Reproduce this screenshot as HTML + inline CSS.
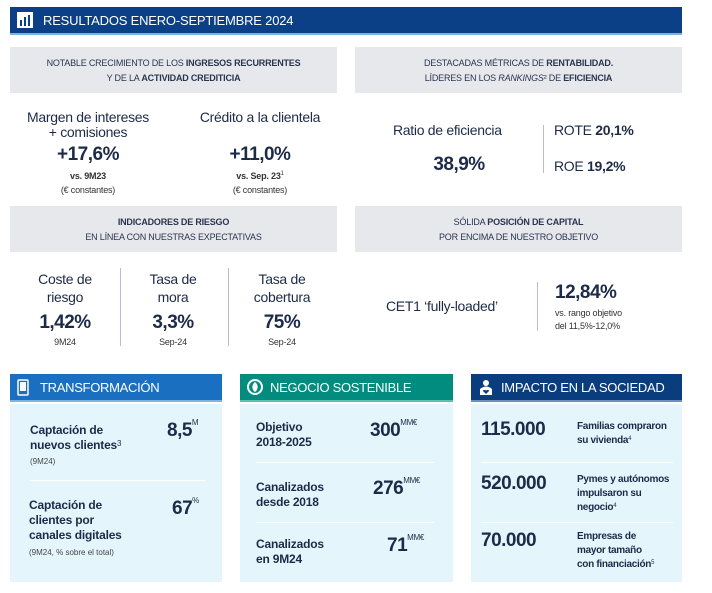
<!DOCTYPE html>
<html><head><meta charset="utf-8"><style>
*{margin:0;padding:0;box-sizing:border-box}
body{width:712px;height:593px;background:#fff;position:relative;overflow:hidden;font-family:"Liberation Sans",sans-serif;color:#1d2a48}
.a{position:absolute;white-space:nowrap}
.c{text-align:center}
.gray{position:absolute;background:#e6e8ec;font-size:9px;letter-spacing:-0.2px;text-align:center;line-height:15px;color:#2a3550}
b{font-weight:bold}
.lab{font-size:14px;line-height:15px;letter-spacing:-0.3px;color:#1d2a48}
.big{font-size:19px;font-weight:bold;letter-spacing:-0.5px}
.sm{font-size:9px;color:#333;letter-spacing:-0.2px}
.vl{position:absolute;width:1px;background:#b8bec8}
.hd{position:absolute;height:28px;color:#fff;font-size:13px;letter-spacing:-0.3px;white-space:nowrap;line-height:28px;padding-left:30px;border-bottom:2px solid #7fb2dd}
.body{position:absolute;background:#e4f6fc}
.hl{position:absolute;height:1px;background:#fff}
.it{font-size:12px;font-weight:bold;line-height:15px;letter-spacing:-0.2px}
.nm{font-size:19px;font-weight:bold;letter-spacing:-0.5px}
sup{font-size:8px;font-weight:normal;vertical-align:top;position:relative;top:-2px;letter-spacing:-0.3px}
.ds{font-size:10px;font-weight:bold;line-height:14px;letter-spacing:-0.3px}
</style></head><body>
<div class="a" style="left:10px;top:7px;width:672px;height:28px;background:#0b3f86;border-bottom:2px solid #7fb2dd;color:#fff;font-size:13px;letter-spacing:-0.2px;line-height:27px;padding-left:33px">RESULTADOS ENERO-SEPTIEMBRE 2024</div>
<svg class="a" style="left:17px;top:12px" width="16" height="16"><rect width="16" height="16" fill="#fff"/><rect x="3" y="8" width="2" height="6" fill="#0b3f86"/><rect x="7" y="5" width="2" height="9" fill="#0b3f86"/><rect x="11" y="3" width="2" height="11" fill="#0b3f86"/></svg>

<div class="gray" style="left:10px;top:47px;width:327px;height:46px;padding-top:9px">NOTABLE CRECIMIENTO DE LOS <b>INGRESOS RECURRENTES</b><br>Y DE LA <b>ACTIVIDAD CREDITICIA</b></div>
<div class="gray" style="left:355px;top:47px;width:327px;height:46px;padding-top:9px">DESTACADAS MÉTRICAS DE <b>RENTABILIDAD.</b><br>LÍDERES EN LOS <i>RANKINGS</i>² DE <b>EFICIENCIA</b></div>

<div class="a c lab" style="left:8px;top:110px;width:160px">Margen de intereses<br>+ comisiones</div>
<div class="a c big" style="left:8px;top:144px;width:160px">+17,6%</div>
<div class="a c sm" style="left:8px;top:169px;width:160px;line-height:14px"><b>vs. 9M23</b><br>(€ constantes)</div>
<div class="a c lab" style="left:180px;top:110px;width:160px">Crédito a la clientela</div>
<div class="a c big" style="left:180px;top:144px;width:160px">+11,0%</div>
<div class="a c sm" style="left:180px;top:169px;width:160px;line-height:14px"><b>vs. Sep. 23</b><sup style="font-size:6px">1</sup><br>(€ constantes)</div>

<div class="a lab" style="left:393px;top:123px">Ratio de eficiencia</div>
<div class="a c big" style="left:400px;top:154px;width:118px">38,9%</div>
<div class="vl" style="left:543px;top:125px;height:48px"></div>
<div class="a lab" style="left:554px;top:123px">ROTE <b>20,1%</b></div>
<div class="a lab" style="left:554px;top:159px">ROE <b>19,2%</b></div>

<div class="gray" style="left:10px;top:206px;width:327px;height:46px;padding-top:9px"><b>INDICADORES DE RIESGO</b><br>EN LÍNEA CON NUESTRAS EXPECTATIVAS</div>
<div class="gray" style="left:355px;top:206px;width:327px;height:46px;padding-top:9px">SÓLIDA <b>POSICIÓN DE CAPITAL</b><br>POR ENCIMA DE NUESTRO OBJETIVO</div>

<div class="a c lab" style="left:15px;top:270px;width:100px;line-height:18px">Coste de<br>riesgo</div>
<div class="a c big" style="left:15px;top:312px;width:100px">1,42%</div>
<div class="a c sm" style="left:15px;top:337px;width:100px">9M24</div>
<div class="vl" style="left:120px;top:268px;height:78px"></div>
<div class="a c lab" style="left:123px;top:270px;width:100px;line-height:18px">Tasa de<br>mora</div>
<div class="a c big" style="left:123px;top:312px;width:100px">3,3%</div>
<div class="a c sm" style="left:123px;top:337px;width:100px">Sep-24</div>
<div class="vl" style="left:228px;top:268px;height:78px"></div>
<div class="a c lab" style="left:232px;top:270px;width:100px;line-height:18px">Tasa de<br>cobertura</div>
<div class="a c big" style="left:232px;top:312px;width:100px">75%</div>
<div class="a c sm" style="left:232px;top:337px;width:100px">Sep-24</div>

<div class="a lab" style="left:386px;top:299px">CET1 ‘fully-loaded’</div>
<div class="vl" style="left:537px;top:282px;height:49px"></div>
<div class="a big" style="left:555px;top:282px">12,84%</div>
<div class="a sm" style="left:555px;top:307px;line-height:13px">vs. rango objetivo<br>del 11,5%-12,0%</div>

<div class="hd" style="left:10px;top:374px;width:212px;background:#1a6fc0">TRANSFORMACIÓN</div>
<svg class="a" style="left:17px;top:379px" width="12" height="17"><rect x="1" y="1" width="10" height="15" rx="1" fill="none" stroke="#fff" stroke-width="1.5"/><rect x="3" y="3" width="6" height="9" fill="#fff"/></svg>
<div class="body" style="left:10px;top:404px;width:212px;height:178px"></div>
<div class="a it" style="left:30px;top:423px">Captación de<br>nuevos clientes<sup>3</sup></div>
<div class="a" style="left:30px;top:457px;font-size:8px;color:#444">(9M24)</div>
<div class="a nm" style="left:167px;top:420px">8,5<sup>M</sup></div>
<div class="hl" style="left:30px;top:480px;width:175px"></div>
<div class="a it" style="left:29px;top:498px">Captación de<br>clientes por<br>canales digitales</div>
<div class="a" style="left:29px;top:548px;font-size:8px;color:#444">(9M24, % sobre el total)</div>
<div class="a nm" style="left:172px;top:498px">67<sup>%</sup></div>

<div class="hd" style="left:240px;top:374px;width:213px;background:#028c80;border-bottom-color:#5fc0b0">NEGOCIO SOSTENIBLE</div>
<svg class="a" style="left:247px;top:379px" width="16" height="16"><circle cx="8" cy="8" r="7" fill="none" stroke="#fff" stroke-width="2"/><path d="M8 3 C4 6 5 11 8 13 C11 11 12 6 8 3Z" fill="#fff"/></svg>
<div class="body" style="left:240px;top:404px;width:213px;height:178px"></div>
<div class="a it" style="left:256px;top:420px">Objetivo<br>2018-2025</div>
<div class="a nm" style="left:370px;top:420px">300<sup>MM€</sup></div>
<div class="hl" style="left:256px;top:462px;width:178px"></div>
<div class="a it" style="left:256px;top:480px">Canalizados<br>desde 2018</div>
<div class="a nm" style="left:373px;top:478px">276<sup>MM€</sup></div>
<div class="hl" style="left:256px;top:522px;width:178px"></div>
<div class="a it" style="left:256px;top:537px">Canalizados<br>en 9M24</div>
<div class="a nm" style="left:387px;top:535px">71<sup>MM€</sup></div>

<div class="hd" style="left:471px;top:374px;width:211px;background:#0a3d7e;border-bottom-color:#6f90bd">IMPACTO EN LA SOCIEDAD</div>
<svg class="a" style="left:478px;top:379px" width="16" height="17"><circle cx="8" cy="4" r="3" fill="#fff"/><path d="M2 16 V10 Q8 5 14 10 V16Z" fill="#fff"/><path d="M8 15 L5 12 Q5 10 8 11.5 Q11 10 11 12Z" fill="#0a3d7e"/></svg>
<div class="body" style="left:471px;top:404px;width:211px;height:178px"></div>
<div class="a nm" style="left:481px;top:419px">115.000</div>
<div class="a ds" style="left:577px;top:420px">Familias compraron<br>su vivienda<sup style="font-size:6px">4</sup></div>
<div class="hl" style="left:481px;top:462px;width:192px"></div>
<div class="a nm" style="left:481px;top:473px">520.000</div>
<div class="a ds" style="left:577px;top:473px">Pymes y autónomos<br>impulsaron su<br>negocio<sup style="font-size:6px">4</sup></div>
<div class="hl" style="left:481px;top:522px;width:192px"></div>
<div class="a nm" style="left:481px;top:530px">70.000</div>
<div class="a ds" style="left:577px;top:530px">Empresas de<br>mayor tamaño<br>con financiación<sup style="font-size:6px">5</sup></div>
</body></html>
